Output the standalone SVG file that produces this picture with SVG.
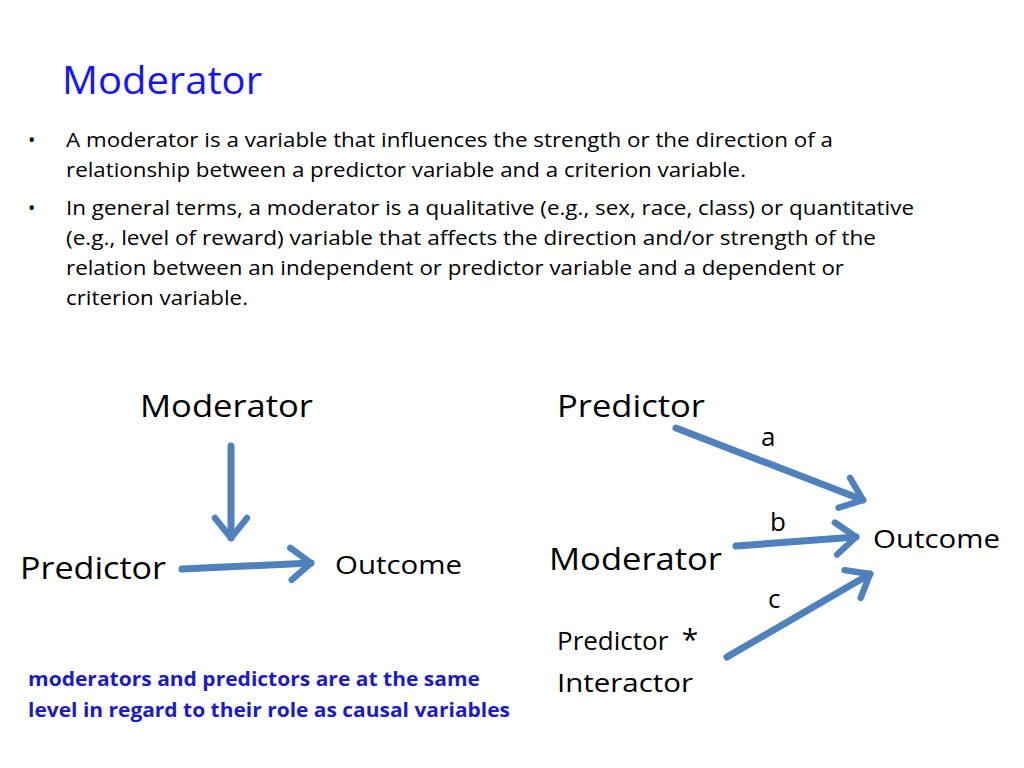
<svg xmlns="http://www.w3.org/2000/svg" width="1024" height="768" viewBox="0 0 1024 768">
<style>
text{font-family:"Open Sans","Liberation Sans",Arial,sans-serif;fill:#000}
.b{font-size:19.5px}
.big{font-size:31px}
.mid{font-size:26px}
.arr{stroke:#4f81bd;stroke-width:7;fill:none;stroke-linecap:round;stroke-linejoin:round}
</style>
<defs>
<marker id="h" viewBox="-14 -11 16 22" refX="0" refY="0" markerWidth="4.6" markerHeight="6.3" orient="auto" markerUnits="strokeWidth">
<path d="M-10,-8 L0,0 L-10,8" fill="none" stroke="#4f81bd" stroke-width="3.2" stroke-linecap="round" stroke-linejoin="round"/>
</marker>
</defs>
<rect width="1024" height="768" fill="#fff"/>
<text x="62" y="94" style="font-size:38px;fill:#1414ff" textLength="200" lengthAdjust="spacingAndGlyphs">Moderator</text>
<g id="bullets" class="b">
<text x="28" y="147">•</text>
<text x="66" y="147" textLength="767" lengthAdjust="spacingAndGlyphs">A moderator is a variable that influences the strength or the direction of a</text>
<text x="66" y="177" textLength="680" lengthAdjust="spacingAndGlyphs">relationship between a predictor variable and a criterion variable.</text>
<text x="28" y="215">•</text>
<text x="66" y="215" textLength="848" lengthAdjust="spacingAndGlyphs">In general terms, a moderator is a qualitative (e.g., sex, race, class) or quantitative</text>
<text x="66" y="245" textLength="810" lengthAdjust="spacingAndGlyphs">(e.g., level of reward) variable that affects the direction and/or strength of the</text>
<text x="66" y="275" textLength="778" lengthAdjust="spacingAndGlyphs">relation between an independent or predictor variable and a dependent or</text>
<text x="66" y="305" textLength="182" lengthAdjust="spacingAndGlyphs">criterion variable.</text>
</g>
<g id="n-mod-l"><text class="big" x="140" y="417" textLength="173" lengthAdjust="spacingAndGlyphs">Moderator</text></g>
<g id="n-pred-l"><text class="big" x="20" y="579" textLength="146" lengthAdjust="spacingAndGlyphs">Predictor</text></g>
<g id="n-out-l"><text class="mid" x="335" y="574" textLength="127" lengthAdjust="spacingAndGlyphs">Outcome</text></g>
<g id="n-pred-r"><text class="big" x="557" y="417" textLength="148" lengthAdjust="spacingAndGlyphs">Predictor</text></g>
<g id="n-mod-r"><text class="big" x="549" y="570" textLength="173" lengthAdjust="spacingAndGlyphs">Moderator</text></g>
<g id="n-int-r"><text class="mid" x="557" y="650" xml:space="preserve">Predictor  <tspan style="font-size:30px">*</tspan></text><text class="mid" x="557" y="692" textLength="136" lengthAdjust="spacingAndGlyphs">Interactor</text></g>
<g id="n-out-r"><text class="mid" x="873" y="548" textLength="127" lengthAdjust="spacingAndGlyphs">Outcome</text></g>
<g id="labels" class="mid">
<text x="761" y="446">a</text><text x="770" y="531">b</text><text x="768" y="608">c</text>
</g>
<g id="note" style="font-size:19px;font-weight:bold">
<text x="28" y="686" style="fill:#1a1acc" textLength="452" lengthAdjust="spacingAndGlyphs">moderators and predictors are at the same</text>
<text x="28" y="717" style="fill:#1a1acc" textLength="482" lengthAdjust="spacingAndGlyphs">level in regard to their role as causal variables</text>
</g>
<g id="connectors" class="arr" marker-end="url(#h)">
<line x1="231" y1="446" x2="231" y2="538"/>
<line x1="182" y1="569" x2="311" y2="563"/>
<line x1="676" y1="428" x2="863" y2="500"/>
<line x1="736" y1="546" x2="856" y2="537"/>
<line x1="727" y1="657" x2="870" y2="574"/>
</g>
</svg>
